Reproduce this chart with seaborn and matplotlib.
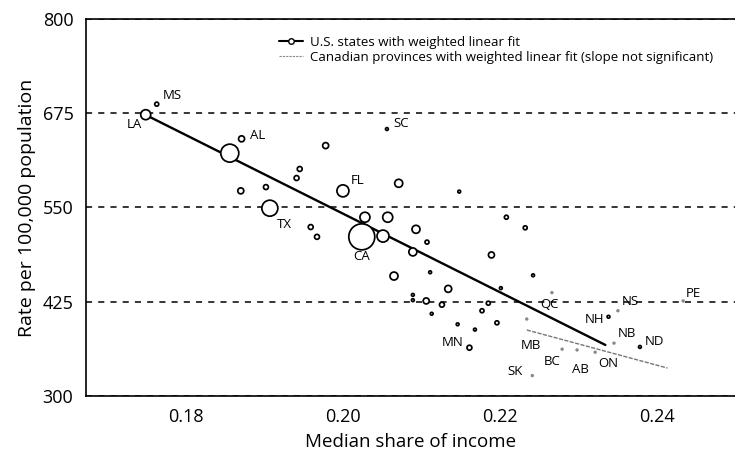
import numpy as np
import pandas as pd
import matplotlib
matplotlib.use('Agg')
import matplotlib.pyplot as plt
import seaborn as sns
from matplotlib.lines import Line2D

# --- data ---
# U.S. states: median share of income, rate per 100,000, population weight
us_share = [0.1749, 0.1763, 0.1871, 0.2056, 0.2000, 0.1907, 0.2024, 0.2161, 0.2338, 0.2378,
            0.1856, 0.1978, 0.1945, 0.1941, 0.1870, 0.1902, 0.1959, 0.1967, 0.2071, 0.2148,
            0.2028, 0.2057, 0.2051, 0.2093, 0.2107, 0.2089, 0.2065, 0.2111, 0.2189, 0.2208,
            0.2232, 0.2134, 0.2201, 0.2089, 0.2089, 0.2106, 0.2126, 0.2113, 0.2185, 0.2177,
            0.2146, 0.2168, 0.2196, 0.2242]
us_rate = [673, 687, 641, 654, 572, 549, 511, 364, 405, 365,
           622, 632, 601, 589, 572, 577, 524, 511, 582, 571,
           537, 537, 512, 521, 504, 491, 459, 464, 487, 537,
           523, 442, 443, 434, 427, 426, 421, 409, 423, 413,
           395, 388, 397, 460]
us_weight = [25, 4, 9, 2, 36, 64, 169, 6, 2, 2,
             81, 9, 6, 6, 9, 6, 6, 6, 16, 2,
             25, 25, 36, 16, 4, 16, 16, 2, 9, 4,
             4, 12, 2, 2, 2, 9, 6, 2, 4, 4,
             2, 2, 4, 2]
us_labels = ['LA', 'MS', 'AL', 'SC', 'FL', 'TX', 'CA', 'MN', 'NH', 'ND'] + [''] * 34

# Canadian provinces
ca_share = [0.2266, 0.2234, 0.2241, 0.2279, 0.2298, 0.2321, 0.2345, 0.2350, 0.2433]
ca_rate = [437, 402, 327, 362, 361, 358, 370, 413, 426]
ca_labels = ['QC', 'MB', 'SK', 'BC', 'AB', 'ON', 'NB', 'NS', 'PE']

# weighted linear fits (intercept, slope) and x-range of each fit line
us_fit = (1584.8, -5215.0)
us_fit_range = (0.1749, 0.2334)
ca_fit = (1017.7, -2821.0)
ca_fit_range = (0.2234, 0.2413)

y_ticks = [300, 425, 550, 675, 800]
x_ticks = [0.18, 0.20, 0.22, 0.24]

us = pd.DataFrame({'share': us_share, 'rate': us_rate, 'weight': us_weight, 'label': us_labels})
ca = pd.DataFrame({'share': ca_share, 'rate': ca_rate, 'label': ca_labels})

sns.set_theme(style='white')
plt.rcParams['font.family'] = ['Open Sans', 'DejaVu Sans']
plt.rcParams.update({'text.color': 'black', 'axes.labelcolor': 'black',
                     'xtick.color': 'black', 'ytick.color': 'black'})

fig = plt.figure(figsize=(7.35, 4.62), dpi=100)
ax = fig.add_axes([0.117, 0.143, 0.883, 0.816])

# dashed reference lines
ax.yaxis.grid(True, linestyle=(0, (4, 4)), color='black', linewidth=1.1)
ax.set_axisbelow(True)

# fit lines
xs = np.array(us_fit_range)
ax.plot(xs, us_fit[0] + us_fit[1] * xs, color='black', lw=1.7, zorder=2)
xc = np.array(ca_fit_range)
ax.plot(xc, ca_fit[0] + ca_fit[1] * xc, color='#777777', lw=1.0, ls=(0, (3, 1)), zorder=2)

# points, marker area proportional to weight
wmin, wmax = min(us_weight), max(us_weight)
sns.scatterplot(data=us, x='share', y='rate', size='weight', sizes=(2.07 * wmin, 2.07 * wmax),
                size_norm=(wmin, wmax), facecolor='white', edgecolor='black', linewidth=1.25,
                legend=False, ax=ax, zorder=3)
sns.scatterplot(data=ca, x='share', y='rate', s=6, color='#888888', edgecolor='none',
                legend=False, ax=ax, zorder=3)

# label placement: (dx px, dy px, ha, va)
offsets = {
    'LA': (-4, -3, 'right', 'top'), 'MS': (6, 2, 'left', 'bottom'),
    'AL': (8, 3, 'left', 'center'), 'SC': (6, 6, 'left', 'center'),
    'FL': (8, 10, 'left', 'center'), 'TX': (7, -10, 'left', 'top'),
    'CA': (0, -13, 'center', 'top'), 'MN': (-6, 5, 'right', 'center'),
    'NH': (-4, -3, 'right', 'center'), 'ND': (5, 5, 'left', 'center'),
    'QC': (-2, -5, 'center', 'top'), 'MB': (4, -20, 'center', 'top'),
    'SK': (-10, 4, 'right', 'center'), 'BC': (-2, -6, 'right', 'top'),
    'AB': (3, -13, 'center', 'top'), 'ON': (3, -5, 'left', 'top'),
    'NB': (4, 10, 'left', 'center'), 'NS': (4, 3, 'left', 'bottom'),
    'PE': (3, 1, 'left', 'bottom'),
}
for df in (us, ca):
    for _, row in df.iterrows():
        if not row['label']:
            continue
        dx, dy, ha, va = offsets[row['label']]
        ax.annotate(row['label'], (row['share'], row['rate']), xytext=(dx * 0.72, dy * 0.72),
                    textcoords='offset points', ha=ha, va=va, fontsize=9.5, color='black')

ax.set_xlim(0.1673, 0.2499)
ax.set_ylim(300, 800)
ax.set_xticks(x_ticks)
ax.set_xticklabels([f'{t:.2f}' for t in x_ticks])
ax.set_yticks(y_ticks)
ax.tick_params(axis='x', length=0, labelsize=13, pad=9)
ax.tick_params(axis='y', length=0, labelsize=13, pad=9)
ax.set_xlabel('Median share of income', fontsize=13.5, labelpad=5)
ax.set_ylabel('Rate per 100,000 population', fontsize=14, labelpad=5)

for side in ['left', 'bottom', 'top']:
    ax.spines[side].set_color('black')
    ax.spines[side].set_linewidth(1.2)
ax.spines['right'].set_visible(False)

handles = [
    Line2D([0], [0], color='black', lw=1.5, marker='o', markersize=4,
           markerfacecolor='white', markeredgecolor='black'),
    Line2D([0], [0], color='#888888', lw=0.8, ls=(0, (2, 1))),
]
ax.legend(handles, ['U.S. states with weighted linear fit',
                    'Canadian provinces with weighted linear fit (slope not significant)'],
          loc='upper left', bbox_to_anchor=(0.29, 0.97), frameon=False, fontsize=9.5,
          handlelength=1.8, handletextpad=0.5, labelspacing=0.15, borderaxespad=0)

fig.savefig('out.png', dpi=100)
